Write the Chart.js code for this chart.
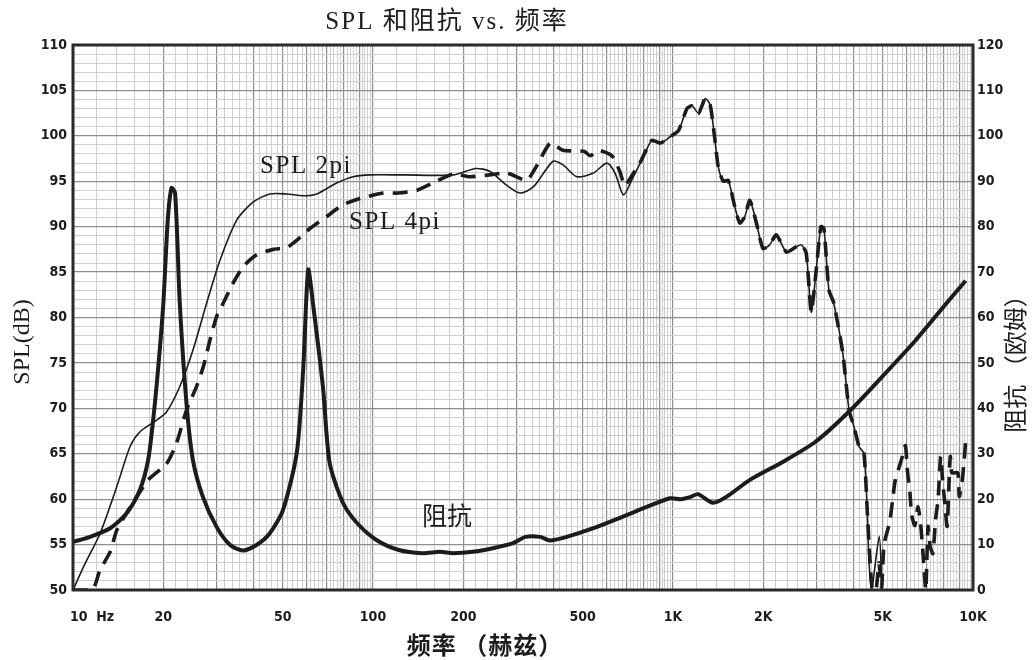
<!DOCTYPE html>
<html><head><meta charset="utf-8">
<script src="https://cdn.jsdelivr.net/npm/chart.js@4.4.1/dist/chart.umd.min.js"></script>
<style>html,body{margin:0;padding:0;background:#fff;overflow:hidden}</style>
</head><body>
<canvas id="c" width="1033" height="660"></canvas>
<script>
// ---------- data ----------
const impFreq = [10, 11.4, 13.3, 15.1, 16.7, 17.8, 18.5, 19.2, 20, 20.7, 21.3, 21.9, 22.7, 23.9, 25.1, 27.1, 30.1, 33.4, 36.9, 40.9, 45.3, 50.1, 55.7, 58.5, 60.8, 63.1, 68.1, 71.7, 79.4, 88.3, 102.7, 122, 146, 167, 185, 215, 251, 293, 322, 361, 389, 442, 543, 666, 817, 979, 1063, 1145, 1212, 1359, 1506, 1800, 2321, 2994, 3864, 4985, 6441, 8318, 9450];
const impedance = [10.6, 11.7, 13.6, 16.9, 22, 28.6, 37.4, 48.4, 63, 81.5, 88.5, 87.4, 63, 41, 28.6, 20.5, 13.9, 9.9, 8.7, 9.9, 12.5, 17.6, 30.2, 48.4, 70.5, 63, 44.7, 28, 19.2, 14.8, 11, 8.8, 8.1, 8.4, 8.1, 8.4, 9.2, 10.3, 11.7, 11.7, 10.9, 11.7, 13.6, 15.9, 18.3, 20.2, 20, 20.5, 21.1, 19.2, 20.5, 24.2, 28.2, 32.7, 39.3, 47, 55, 63.8, 68.1];

const freq2pi = [10, 10.97, 12.3, 14.0, 15.5, 16.7, 19, 20.5, 22.7, 25.1, 27.9, 30.9, 35.1, 39.8, 45.3, 51.6, 58.5, 64.9, 75.6, 85.8, 97.7, 126, 185, 220, 245, 278, 309, 343, 398, 430, 478, 543, 602, 641, 684, 738, 797, 850, 907, 979, 1044, 1113, 1157, 1217, 1280, 1330, 1380, 1415, 1470, 1528, 1607, 1670, 1735, 1803, 1897, 1995, 2100, 2210, 2390, 2580, 2680, 2780, 2890, 2995, 3110, 3185, 3310, 3435, 3680, 3864, 4010, 4170, 4330, 4440, 4500, 4590, 4870, 4970];
const spl2pi = [50, 52.9, 56.2, 61.4, 65.8, 67.4, 68.7, 69.6, 72.4, 76.4, 81.6, 86.3, 90.7, 92.7, 93.6, 93.6, 93.4, 93.6, 94.8, 95.5, 95.7, 95.7, 95.7, 96.4, 96.1, 94.6, 93.7, 94.4, 97.2, 96.8, 95.5, 95.9, 97, 95.9, 93.5, 95.5, 97.7, 99.5, 99.2, 99.9, 100.6, 103, 103.3, 102.5, 104.1, 103.4, 99.5, 96.6, 95, 95.1, 92.2, 90.4, 91.1, 92.9, 90.4, 87.6, 88, 89.1, 87.2, 87.8, 88, 87.1, 80.6, 84.9, 90, 89.8, 83, 81.6, 76.1, 69.8, 68, 65.8, 65, 58.8, 53.3, 50, 55.9, 50];

const freq4pi = [10, 11.6, 12.3, 13.3, 14.0, 15.3, 17.8, 20.5, 22.1, 23.9, 25.8, 27.2, 28.6, 30.1, 31.7, 34.2, 36.9, 40.9, 46.5, 51.6, 55.7, 61.6, 70, 79.4, 90.4, 108, 121, 140, 158, 185, 210, 245, 280, 325, 350, 390, 430, 505, 530, 565, 630, 666, 690, 710, 775, 850, 907, 979, 1044, 1113, 1157, 1217, 1280, 1330, 1380, 1415, 1470, 1528, 1607, 1670, 1735, 1803, 1897, 1995, 2100, 2210, 2390, 2580, 2680, 2780, 2890, 2995, 3110, 3185, 3310, 3435, 3680, 3864, 4010, 4170, 4330, 4440, 4530, 4620, 4750, 4860, 4960, 5050, 5270, 5400, 5500, 5780, 5950, 6050, 6160, 6250, 6400, 6560, 6700, 6800, 6960, 7080, 7200, 7350, 7500, 7650, 7800, 7900, 8050, 8200, 8300, 8400, 8500, 8900, 9000, 9200, 9350, 9450];
const spl4pi = [50, 50, 52.2, 54.2, 56.6, 58.8, 62.1, 63.9, 66.1, 69.8, 72.4, 74.6, 77.5, 80.1, 81.6, 83.8, 85.6, 86.9, 87.5, 87.7, 88.5, 89.8, 91.1, 92.4, 93.1, 93.7, 93.7, 94.0, 94.8, 95.8, 95.5, 95.7, 95.9, 95.1, 96.6, 99.2, 98.4, 98.3, 97.8, 98.4, 97.7, 96, 94.5, 95, 97, 99.5, 99.2, 99.9, 100.6, 103, 103.3, 102.5, 104.1, 103.4, 99.5, 96.6, 95, 95.1, 92.2, 90.4, 91.1, 92.9, 90.4, 87.6, 88, 89.1, 87.2, 87.8, 88, 87.1, 80.6, 84.9, 90, 89.8, 83, 81.6, 76.1, 69.8, 68, 65.8, 65, 58.8, 53.5, 50, 50, 53, 50.3, 55, 57.4, 60, 62, 64.4, 65.9, 63, 60.8, 58.2, 57.1, 59.2, 57, 54.4, 50, 57, 54.8, 54, 57.7, 60, 64.7, 62.5, 59.6, 57, 61, 64.7, 62.9, 62.9, 60.3, 62, 64.3, 66.5];

const xLabelValues = [10, 20, 50, 100, 200, 500, 1000, 2000, 5000, 10000];
const xLabelTexts = ['10  Hz', '20', '50', '100', '200', '500', '1K', '2K', '5K', '10K'];
const splMin = 50, splMax = 110;
const impMin = 0, impMax = 120;

const noteTexts = ['SPL 2pi', 'SPL 4pi', '阻抗'];
const noteFreq = [59.8, 118.4, 176.4];
const noteLevel = [96.6, 90.5, 57.9];

// ---------- grid values ----------
const xGrid = [];
[10, 100, 1000].forEach(d => {
  for (let k = 10; k < 100; k += 2) xGrid.push(Math.round(d * k / 10 * 1000) / 1000);
});
xGrid.push(10000);
const isMajorX = v => { const e = Math.pow(10, Math.floor(Math.log10(v) + 1e-9)); const m = v / e; return Math.abs(m - Math.round(m)) < 1e-6; };

const splGrid = []; for (let v = splMin; v <= splMax; v++) splGrid.push(v);
const impGrid = []; for (let v = impMin; v <= impMax; v += 10) impGrid.push(v);

const LIGHT = '#cfcfcf', DARK = '#8e8e8e', INK = '#1c1c1c';
const tickFont = {family: "'Liberation Sans Narrow','DejaVu Sans Condensed','Arial Narrow',sans-serif", size: 14, weight: 'bold'};

const pts = (xs, ys) => xs.map((x, i) => ({x, y: ys[i]}));

const decor = {
  id: 'decor',
  afterDatasetsDraw(chart) {
    const {ctx, chartArea: a, scales} = chart;
    ctx.save();
    ctx.strokeStyle = '#2a2a2a';
    ctx.lineWidth = 3;
    ctx.strokeRect(a.left, a.top, a.right - a.left, a.bottom - a.top);
    // notes
    ctx.fillStyle = INK;
    ctx.textAlign = 'center';
    ctx.textBaseline = 'middle';
    noteTexts.forEach((t, i) => {
      ctx.font = "25px 'Liberation Serif','Noto Sans CJK SC',serif";
      ctx.letterSpacing = i < 2 ? '1.5px' : '0px';
      ctx.fillText(t, scales.x.getPixelForValue(noteFreq[i]), scales.y.getPixelForValue(noteLevel[i]));
    });
    ctx.letterSpacing = '0px';
    ctx.restore();
  },
  afterDraw(chart) {
    const {ctx, chartArea: a, scales} = chart;
    ctx.save();
    ctx.fillStyle = INK;
    // first x label, left-aligned at its tick
    ctx.font = `bold 14px ${tickFont.family}`;
    ctx.textAlign = 'left'; ctx.textBaseline = 'middle';
    ctx.fillText(xLabelTexts[0], scales.x.getPixelForValue(xLabelValues[0]) - 3, a.bottom + 27);
    // title
    ctx.textAlign = 'center';
    ctx.font = "25px 'Liberation Serif','Noto Sans CJK SC',serif";
    ctx.letterSpacing = '2px';
    ctx.fillText('SPL 和阻抗 vs. 频率', 447, 22);
    // x title
    ctx.font = "bold 24px 'Noto Sans CJK SC',sans-serif";
    ctx.letterSpacing = '1px';
    ctx.fillText('频率 （赫兹）', 485, 645);
    ctx.letterSpacing = '0px';
    // left y title
    ctx.save();
    ctx.translate(23, 342); ctx.rotate(-Math.PI / 2);
    ctx.font = "24px 'Liberation Serif',serif";
    ctx.fillText('SPL(dB)', 0, 0);
    ctx.restore();
    // right y title
    ctx.save();
    ctx.translate(1015, 358); ctx.rotate(-Math.PI / 2);
    ctx.font = "24px 'Noto Sans CJK SC',sans-serif";
    ctx.fillText('阻抗 （欧姆）', 0, 0);
    ctx.restore();
    ctx.restore();
  }
};

new Chart(document.getElementById('c'), {
  type: 'line',
  data: {
    datasets: [
      {label: 'SPL 2pi', data: pts(freq2pi, spl2pi), yAxisID: 'y', borderColor: INK, borderWidth: 1.6, pointRadius: 0, tension: 0.25, fill: false},
      {label: 'SPL 4pi', data: pts(freq4pi, spl4pi), yAxisID: 'y', borderColor: INK, borderWidth: 3.6, borderDash: [15, 9], pointRadius: 0, tension: 0.2, fill: false},
      {label: '阻抗', data: pts(impFreq, impedance), yAxisID: 'y2', borderColor: INK, borderWidth: 4, pointRadius: 0, tension: 0.25, fill: false}
    ]
  },
  options: {
    responsive: false,
    animation: false,
    devicePixelRatio: 1,
    layout: {padding: {top: 45, left: 0, right: 0, bottom: 0}},
    plugins: {legend: {display: false}, tooltip: {enabled: false}, title: {display: false}},
    scales: {
      x: {
        type: 'logarithmic', min: 10, max: 10000, position: 'bottom',
        afterBuildTicks: s => { s.ticks = xGrid.map(v => ({value: v})); },
        afterFit: s => { s.height = 70; },
        ticks: {
          autoSkip: false, maxRotation: 0, minRotation: 0, padding: 19, color: INK, font: tickFont,
          callback: v => { const i = xLabelValues.findIndex(t => Math.abs(t - v) < 1e-6); return i > 0 ? xLabelTexts[i] : ''; }
        },
        grid: {drawTicks: false, color: c => isMajorX(c.tick.value) ? DARK : LIGHT, lineWidth: c => isMajorX(c.tick.value) ? 1.2 : 1},
        border: {display: false}
      },
      y: {
        type: 'linear', min: splMin, max: splMax, position: 'left',
        afterBuildTicks: s => { s.ticks = splGrid.map(v => ({value: v})); },
        afterFit: s => { s.width = 73; },
        ticks: {autoSkip: false, padding: 6, color: INK, font: tickFont, callback: v => v % 5 === 0 ? String(v) : ''},
        grid: {drawTicks: false, color: c => c.tick.value % 5 === 0 ? DARK : LIGHT, lineWidth: c => c.tick.value % 5 === 0 ? 1.2 : 1},
        border: {display: false}
      },
      y2: {
        type: 'linear', min: impMin, max: impMax, position: 'right',
        afterBuildTicks: s => { s.ticks = impGrid.map(v => ({value: v})); },
        afterFit: s => { s.width = 60; },
        ticks: {autoSkip: false, padding: 4, color: INK, font: tickFont, callback: v => String(v)},
        grid: {display: false, drawTicks: false},
        border: {display: false}
      }
    }
  },
  plugins: [decor]
});
</script>
</body></html>
